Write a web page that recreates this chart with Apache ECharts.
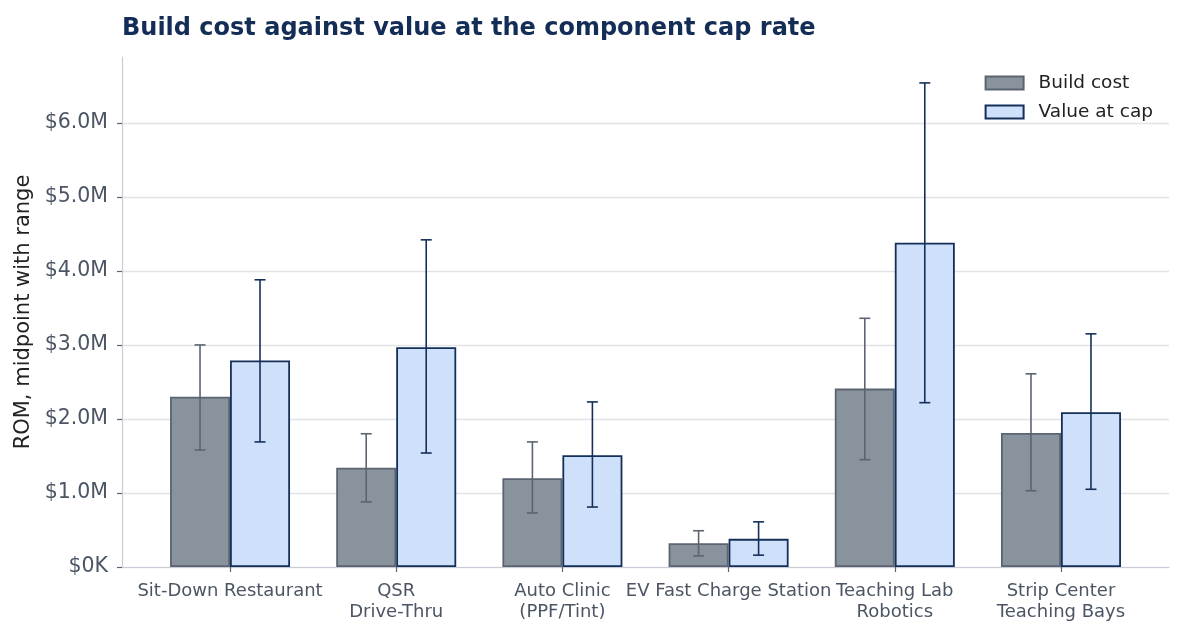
<!DOCTYPE html>
<html>
<head>
<meta charset="utf-8">
<script src="https://cdn.jsdelivr.net/npm/echarts@6/dist/echarts.min.js"></script>
<style>
  html, body { margin: 0; padding: 0; background: #fff; }
  #chart { width: 1183px; height: 635px; }
</style>
</head>
<body>
<div id="chart"></div>
<script>
  // values in $M
  var categories = ['Sit-Down Restaurant', 'QSR\nDrive-Thru', 'Auto Clinic\n(PPF/Tint)',
    'EV Fast Charge Station', 'Teaching Lab\nRobotics', 'Strip Center\nTeaching Bays']
  var buildMid = [2.30, 1.34, 1.20, 0.32, 2.41, 1.81]
  var buildLo = [1.58, 0.88, 0.73, 0.15, 1.45, 1.03]
  var buildHi = [3.00, 1.80, 1.69, 0.49, 3.36, 2.61]
  var capMid = [2.79, 2.97, 1.51, 0.38, 4.38, 2.09]
  var capLo = [1.69, 1.54, 0.81, 0.16, 2.22, 1.05]
  var capHi = [3.88, 4.42, 2.23, 0.61, 6.54, 3.15]
  var yTicks = [0, 1, 2, 3, 4, 5, 6]

  var font = '"DejaVu Sans", sans-serif'
  var barW = 60

  function pairs(arr) {
    return arr.map(function(v, i) { return [i, v] })
  }
  function ranges(lo, hi) {
    return lo.map(function(v, i) { return [i, v, hi[i]] })
  }

  function errorBars(offset, color) {
    return function(params, api) {
      var top = api.coord([api.value(0), api.value(2)])
      var bot = api.coord([api.value(0), api.value(1)])
      var x = top[0] + offset
      var cap = 5.5
      var style = { stroke: color, lineWidth: 1.6 }
      return {
        type: 'group',
        children: [
          { type: 'line', shape: { x1: x, y1: top[1], x2: x, y2: bot[1] }, style: style },
          { type: 'line', shape: { x1: x - cap, y1: top[1], x2: x + cap, y2: top[1] }, style: style },
          { type: 'line', shape: { x1: x - cap, y1: bot[1], x2: x + cap, y2: bot[1] }, style: style }
        ]
      }
    }
  }

  var chart = echarts.init(document.getElementById('chart'))
  chart.setOption({
    animation: false,
    textStyle: { fontFamily: font },
    title: {
      text: 'Build cost against value at the component cap rate',
      left: 122,
      top: 17,
      padding: 0,
      textStyle: { fontFamily: font, fontSize: 24, fontWeight: 'bold', color: '#142d56' }
    },
    legend: {
      data: ['Build cost', 'Value at cap'],
      orient: 'vertical',
      right: 30,
      top: 73,
      padding: 0,
      icon: 'rect',
      itemWidth: 38,
      itemHeight: 13,
      itemGap: 9,
      textStyle: { fontFamily: font, fontSize: 18.5, lineHeight: 20, color: '#222', padding: [0, 0, 0, 10] }
    },
    grid: { left: 122, right: 14, top: 57, bottom: 68, outerBoundsMode: 'none' },
    xAxis: {
      type: 'value',
      min: -0.65,
      max: 5.65,
      splitLine: { show: false },
      axisLine: { show: true, onZero: false, lineStyle: { color: '#c9ccd6', width: 1.2 } },
      axisTick: { show: true, customValues: [0, 1, 2, 3, 4, 5], length: 5, lineStyle: { color: '#5b6470', width: 1.2 } },
      axisLabel: {
        customValues: [0, 1, 2, 3, 4, 5],
        formatter: function(v) { return categories[Math.round(v)] },
        fontSize: 18,
        color: '#4b5563',
        lineHeight: 21,
        margin: 14
      }
    },
    yAxis: {
      type: 'value',
      min: 0,
      max: 6.89,
      interval: 1,
      name: 'ROM, midpoint with range',
      nameLocation: 'middle',
      nameGap: 87,
      nameTextStyle: { fontFamily: font, fontSize: 21, color: '#222' },
      axisLine: { show: true, onZero: false, lineStyle: { color: '#c9ccd6', width: 1.2 } },
      axisTick: { show: true, customValues: yTicks, length: 5, lineStyle: { color: '#5b6470', width: 1.2 } },
      axisLabel: {
        customValues: yTicks,
        fontSize: 20.5,
        color: '#4b5563',
        margin: 14,
        formatter: function(v) {
          return v === 0 ? '$0K' : '$' + v.toFixed(1) + 'M'
        }
      },
      splitLine: { show: true, lineStyle: { color: '#e1e3e7', width: 1.3 } }
    },
    series: [
      {
        name: 'Build cost',
        type: 'bar',
        barWidth: barW,
        barGap: '0%',
        data: pairs(buildMid),
        itemStyle: { color: '#89939d', borderColor: '#5b6470', borderWidth: 1.8 }
      },
      {
        name: 'Value at cap',
        type: 'bar',
        barWidth: barW,
        barGap: '0%',
        data: pairs(capMid),
        itemStyle: { color: '#cfe0fa', borderColor: '#14305a', borderWidth: 1.8 }
      },
      {
        name: 'build-range',
        type: 'custom',
        z: 5,
        renderItem: errorBars(-barW / 2, '#5b6470'),
        data: ranges(buildLo, buildHi),
        encode: { x: 0, y: [1, 2] }
      },
      {
        name: 'cap-range',
        type: 'custom',
        z: 5,
        renderItem: errorBars(barW / 2, '#14305a'),
        data: ranges(capLo, capHi),
        encode: { x: 0, y: [1, 2] }
      }
    ]
  })
</script>
</body>
</html>
